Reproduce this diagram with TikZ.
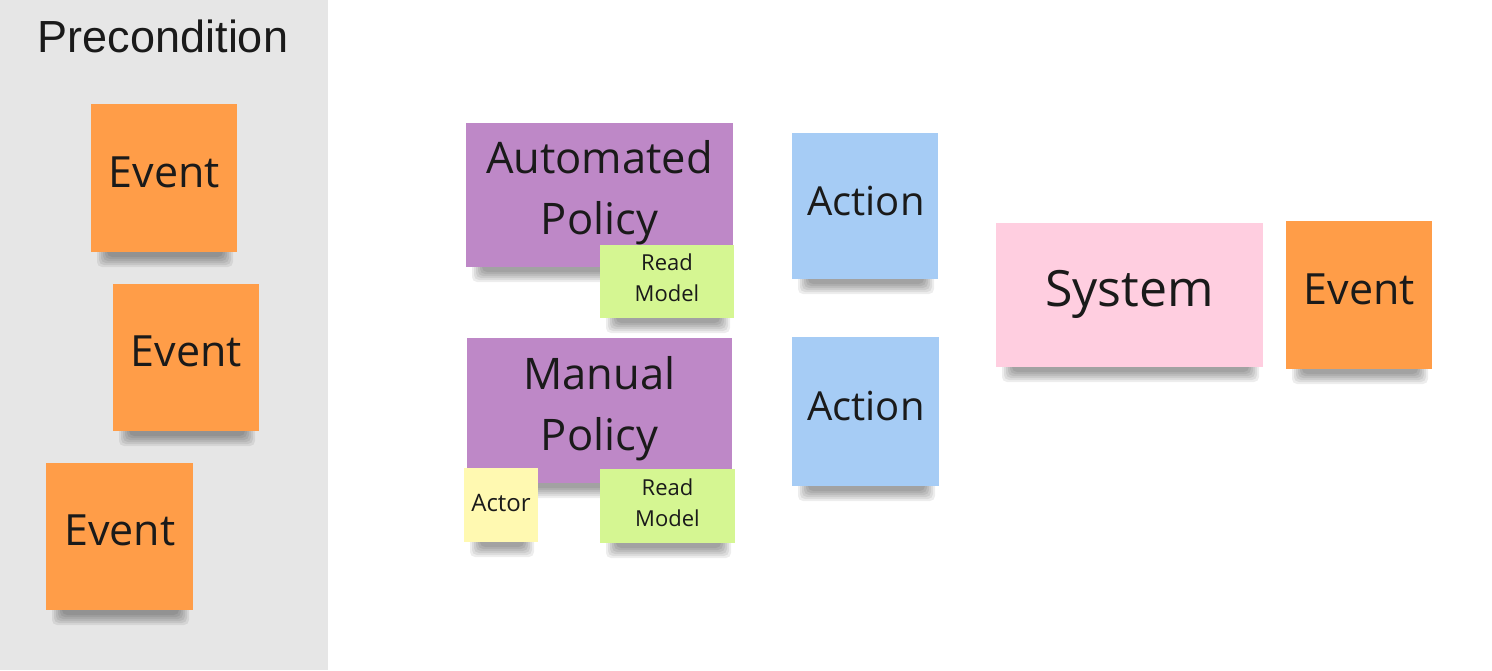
\documentclass[tikz,border=0pt]{standalone}
\usepackage{fontspec}
\setmainfont{Open Sans}
\newfontfamily\arialf{Liberation Sans}
\usetikzlibrary{fit}
\definecolor{panelgray}{HTML}{E6E6E6}
\definecolor{evorange}{HTML}{FF9D48}
\definecolor{polpurple}{HTML}{BE88C7}
\definecolor{rmgreen}{HTML}{D5F692}
\definecolor{actblue}{HTML}{A6CCF5}
\definecolor{syspink}{HTML}{FFCEE0}
\definecolor{actyellow}{HTML}{FFF9B1}
\definecolor{ink}{HTML}{1A1A1A}
\tikzset{
  stickybox/.style={inner sep=0pt, outer sep=0pt, draw=none},
  shadowlayer/.style={fill=black, fill opacity=0.07, draw=none, rounded corners=5pt},
  eventtxt/.style={inner sep=0pt, text=ink, anchor=base, font=\fontsize{43}{52}\selectfont},
  actiontxt/.style={inner sep=0pt, text=ink, anchor=base, font=\fontsize{40}{48}\selectfont},
  systxt/.style={inner sep=0pt, text=ink, anchor=base, font=\fontsize{50}{60}\selectfont},
  poltxt/.style={inner sep=0pt, text=ink, anchor=center, align=center, font=\fontsize{43.5}{61}\selectfont},
  rmtxt/.style={inner sep=0pt, text=ink, anchor=center, align=center, font=\fontsize{22}{31}\selectfont},
  actortxt/.style={inner sep=0pt, text=ink, anchor=base, font=\fontsize{24}{29}\selectfont},
  titletxt/.style={inner sep=0pt, text=ink, anchor=base, font=\arialf\fontsize{45}{54}\selectfont},
}
% #1 name, #2 x1, #3 y1, #4 x2, #5 y2, #6 colour
\newcommand\mysticky[6]{%
  \foreach \k in {0,...,5}{%
    \path[shadowlayer] (#2+6+\k*2,#5-6) rectangle (#4-4-\k*2,#5+15-\k*2);
  }%
  \node[stickybox, fill=#6, fit={(#2,#3) (#4,#5)}] (#1) {};
}
\begin{document}
\begin{tikzpicture}[x=1pt,y=-1pt]
\useasboundingbox (0,0) rectangle (1492,670);
\fill[white] (0,0) rectangle (1492,670);
\fill[panelgray] (0,0) rectangle (328,670);
\node[titletxt] (title) at (163,52) {Precondition};

% precondition events
\mysticky{ev1}{91}{104}{237}{252}{evorange}
\node[eventtxt] (ev1t) at (164.5,187) {Event};
\mysticky{ev2}{113}{284}{259}{431}{evorange}
\node[eventtxt] (ev2t) at (186.5,366) {Event};
\mysticky{ev3}{46}{463}{193}{610}{evorange}
\node[eventtxt] (ev3t) at (120,545) {Event};

% policies
\mysticky{auto}{466}{123}{733}{267}{polpurple}
\node[poltxt] (autot) at (599.5,192.6) {Automated\\Policy};
\mysticky{rm1}{600}{245}{734}{318}{rmgreen}
\node[rmtxt] (rm1t) at (667,277.5) {Read\\Model};

\mysticky{manual}{467}{338}{732}{483}{polpurple}
\node[poltxt] (manualt) at (599.5,409.1) {Manual\\Policy};
\mysticky{actor}{464}{468}{538}{542}{actyellow}
\node[actortxt] (actort) at (501,511) {Actor};
\mysticky{rm2}{600}{469}{735}{543}{rmgreen}
\node[rmtxt] (rm2t) at (667.5,502.5) {Read\\Model};

% actions
\mysticky{act1}{792}{133}{938}{279}{actblue}
\node[actiontxt] (act1t) at (866,215) {Action};
\mysticky{act2}{792}{337}{939}{486}{actblue}
\node[actiontxt] (act2t) at (866,420) {Action};

% system and resulting event
\mysticky{sys}{996}{223}{1263}{367}{syspink}
\node[systxt] (syst) at (1129.5,306) {System};
\mysticky{ev4}{1286}{221}{1432}{369}{evorange}
\node[eventtxt] (ev4t) at (1359.5,304) {Event};
\end{tikzpicture}
\end{document}
